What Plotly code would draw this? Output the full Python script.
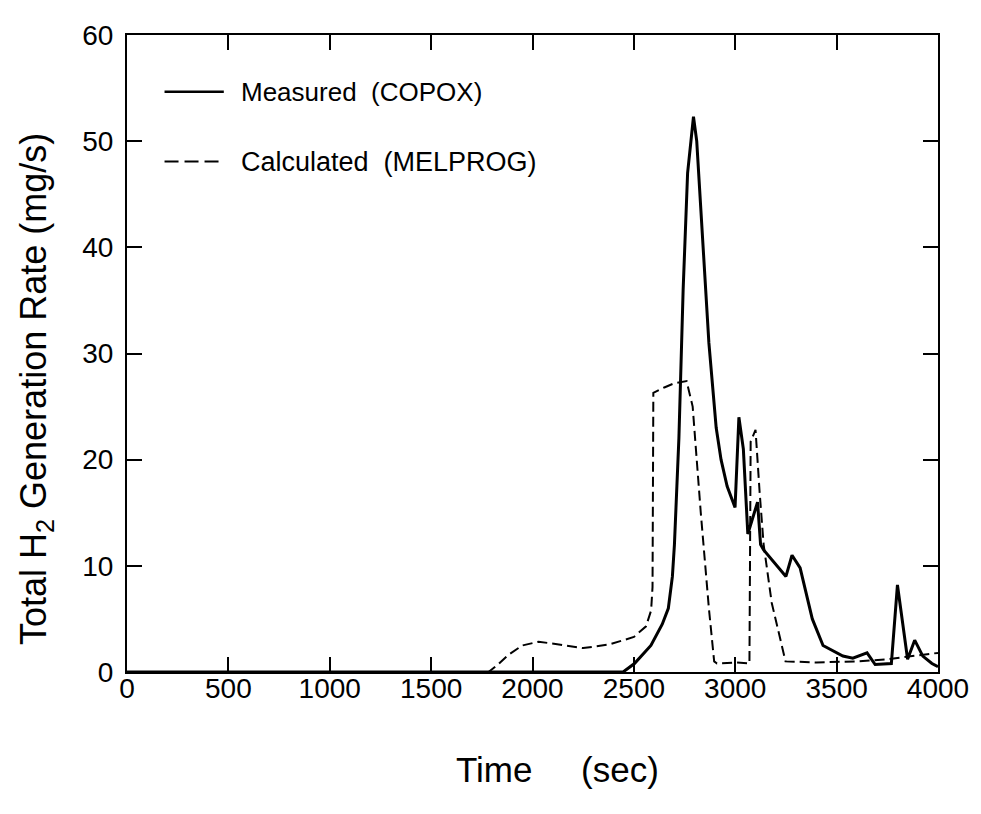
import plotly.graph_objects as go

# ---- data ----
measured_t = [0, 2447, 2503, 2584, 2640, 2670, 2690, 2700, 2722, 2743, 2765, 2794, 2810,
              2840, 2870, 2906, 2930, 2960, 2999, 3018, 3040, 3062, 3110, 3125, 3140,
              3250, 3280, 3320, 3380, 3433, 3531, 3580, 3650, 3690, 3770, 3800, 3850,
              3885, 3925, 3970, 4000]
measured_v = [0, 0, 0.8, 2.5, 4.5, 6.0, 9.0, 12.0, 22.0, 36.0, 47.0, 52.3, 50.0,
              41.0, 31.0, 23.0, 20.0, 17.5, 15.5, 24.0, 21.0, 13.0, 16.0, 12.0, 11.5,
              9.0, 11.0, 9.8, 5.0, 2.5, 1.5, 1.3, 1.8, 0.7, 0.8, 8.2, 1.2,
              3.0, 1.5, 0.8, 0.5]

calc_t = [0, 1783, 1830, 1880, 1950, 2030, 2130, 2250, 2380, 2500, 2560, 2585, 2592,
          2596, 2650, 2700, 2760, 2790, 2830, 2870, 2896, 2910, 3000, 3070, 3076,
          3100, 3120, 3140, 3180, 3248, 3400, 3600, 3750, 3900, 4000]
calc_v = [0, 0, 0.7, 1.6, 2.5, 2.85, 2.6, 2.25, 2.6, 3.3, 4.3, 5.8, 8.0,
          26.3, 26.8, 27.2, 27.4, 25.0, 15.0, 6.0, 1.0, 0.8, 0.9, 0.8, 21.7,
          22.8, 17.0, 12.0, 6.5, 1.0, 0.9, 1.0, 1.2, 1.6, 1.8]

x_ticks = [0, 500, 1000, 1500, 2000, 2500, 3000, 3500, 4000]
y_ticks = [0, 10, 20, 30, 40, 50, 60]

legend_labels = ["Measured\u00a0\u00a0(COPOX)", "Calculated\u00a0\u00a0(MELPROG)"]

FONT = "Liberation Sans, Arial, sans-serif"

# figure geometry (page body adds an 8px offset)
W, H = 973, 806
L, R, T, B = 119, 940, 25, 664
PW, PH = R - L, B - T


def px(fx):
    return (fx - L) / PW


def py(fy):
    return (B - fy) / PH


fig = go.Figure()
fig.add_trace(go.Scatter(x=measured_t, y=measured_v, mode="lines",
                         line=dict(color="black", width=3), showlegend=False))
fig.add_trace(go.Scatter(x=calc_t, y=calc_v, mode="lines",
                         line=dict(color="black", width=2, dash="10px,5px"), showlegend=False))

axis_common = dict(showgrid=False, zeroline=False, showline=True, linecolor="black",
                   linewidth=2, mirror="allticks", ticks="inside", ticklen=15,
                   tickwidth=1.5, tickcolor="black",
                   tickfont=dict(family=FONT, size=28, color="black"))

fig.update_xaxes(range=[0, 4000], tickmode="array", tickvals=x_ticks,
                 ticktext=[str(v) for v in x_ticks], ticklabelstandoff=-10, **axis_common)
fig.update_yaxes(range=[0, 60], tickmode="array", tickvals=y_ticks,
                 ticktext=[str(v) for v in y_ticks], ticklabelstandoff=6, **axis_common)

# legend drawn manually to match the original placement
legend_y = [82, 152]
dashes = ["solid", "14px,6px"]
widths = [2.5, 2]
label_sizes = [26, 27]
annotations = []
for i, lab in enumerate(legend_labels):
    fig.add_shape(type="line", xref="paper", yref="paper",
                  x0=px(157), x1=px(217), y0=py(legend_y[i]), y1=py(legend_y[i]),
                  line=dict(color="black", width=widths[i], dash=dashes[i]))
    annotations.append(dict(text=lab, xref="paper", yref="paper",
                            x=px(232), y=py(legend_y[i]),
                            xanchor="left", yanchor="middle", showarrow=False,
                            font=dict(family=FONT, size=label_sizes[i], color="black")))

annotations.append(dict(text="Time\u00a0\u00a0\u00a0\u00a0\u00a0(sec)", xref="paper", yref="paper",
                        x=px(555), y=py(762), xanchor="center",
                        yanchor="middle", showarrow=False,
                        font=dict(family=FONT, size=35, color="black")))
annotations.append(dict(text="Total H<sub>2</sub> Generation Rate (mg/s)", xref="paper",
                        yref="paper", x=px(27), y=py(380),
                        xanchor="center", yanchor="middle", textangle=-90, showarrow=False,
                        font=dict(family=FONT, size=36, color="black")))

fig.update_layout(width=W, height=H, margin=dict(l=L, r=W - R, t=T, b=H - B),
                  plot_bgcolor="white", paper_bgcolor="white", annotations=annotations)

fig.write_html("out.html")
